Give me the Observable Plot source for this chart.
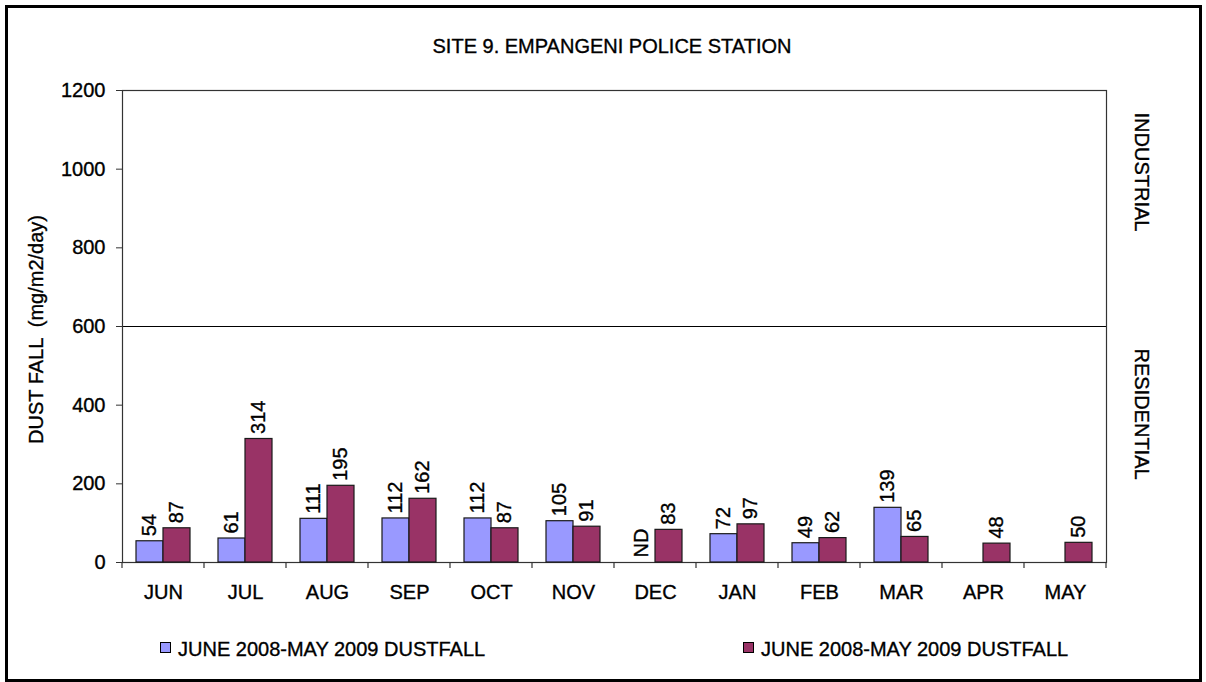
<!DOCTYPE html>
<html>
<head>
<meta charset="utf-8">
<script src="https://cdn.jsdelivr.net/npm/d3@7"></script>
<script src="https://cdn.jsdelivr.net/npm/@observablehq/plot@0.6"></script>
<style>
  body { margin: 0; background: #fff; font-family: "Liberation Sans", Arial, sans-serif; }
  #wrap { position: relative; width: 1206px; height: 682px; overflow: hidden; background: #fff; }
  #border { position: absolute; left: 5px; top: 5px; width: 1197px; height: 677px; border: 3px solid #000; box-sizing: border-box; }
  #title { position: absolute; left: 312px; width: 600px; top: 36px; text-align: center; font-size: 20px; line-height: 20px; color: #000; -webkit-text-stroke: 0.35px #000; }
  #chart { position: absolute; left: 0; top: 0; }
  #chart text { white-space: pre; stroke: #000; stroke-width: 0.35px; }
  .leg { position: absolute; top: 639px; font-size: 20px; line-height: 20px; color: #000; white-space: nowrap; -webkit-text-stroke: 0.35px #000; }
  .sw { position: absolute; width: 11px; height: 11px; border: 1px solid #000; box-sizing: border-box; top: 3px; left: 0; -webkit-text-stroke: 0; }
  .leg span.t { position: absolute; left: 18px; top: 0; }
</style>
</head>
<body>
<div id="wrap">
  <div id="border"></div>
  <div id="title"></div>
  <div id="chart"></div>
  <div id="legend"></div>
</div>
<script>
const title = "SITE 9. EMPANGENI POLICE STATION";
const yLabel = "DUST FALL  (mg/m2/day)";
const months = ["JUN","JUL","AUG","SEP","OCT","NOV","DEC","JAN","FEB","MAR","APR","MAY"];
const seriesKeys = ["first","second"];
const seriesNames = ["JUNE 2008-MAY 2009 DUSTFALL","JUNE 2008-MAY 2009 DUSTFALL"];
const seriesColors = ["#9999FF","#993366"];
const dustFirst = [54,61,111,112,112,105,null,72,49,139,null,null];
const dustSecond = [87,314,195,162,87,91,83,97,62,65,48,50];
const notDetected = ["DEC"];   // months labelled "ND" for the first series
const yTicks = [0,200,400,600,800,1000,1200];
const threshold = [600];
const zones = [{name: "INDUSTRIAL", top: 1200}, {name: "RESIDENTIAL", top: 600}];

document.getElementById("title").textContent = title;

const seriesValues = [dustFirst, dustSecond];
const data = months.flatMap((m, i) => seriesKeys.map((k, s) => {
  const v = seriesValues[s][i];
  let label = v != null ? String(v) : (s === 0 && notDetected.includes(m) ? "ND" : null);
  return {month: m, series: k, value: v, label};
}));

const font = '"Liberation Sans", Arial, sans-serif';
const plot = Plot.plot({
  width: 1206,
  height: 620,
  marginLeft: 118,
  marginRight: 96,
  marginTop: 90,
  marginBottom: 58,
  style: {fontFamily: font, fontSize: "20px", color: "#000", background: "transparent"},
  fx: {domain: months, padding: 0, label: null},
  x: {domain: seriesKeys, paddingInner: 0, paddingOuter: 0.5, axis: null},
  y: {domain: [0, 1200], label: null},
  color: {domain: seriesKeys, range: seriesColors},
  marks: [
    Plot.ruleY(threshold, {stroke: "#000", strokeWidth: 1.2}),
    Plot.frame({facet: "super", stroke: "#333", strokeWidth: 1.2}),
    Plot.barY(data.filter(d => d.value != null), {fx: "month", x: "series", y: "value", fill: "series", stroke: "#1a1a1a", strokeWidth: 1.2}),
    Plot.text(data.filter(d => d.label != null), {fx: "month", x: "series", y: d => d.value ?? 0, text: "label", rotate: -90, textAnchor: "start", dy: -5, fontSize: 20, fill: "#000"}),
    Plot.text(zones, {fx: () => months[months.length - 1], y: "top", text: "name", frameAnchor: "right", rotate: 90, textAnchor: "start", dx: 35, dy: 22, fontSize: 20, fill: "#000"}),
    Plot.text([yLabel], {facet: "super", text: d => d, frameAnchor: "left", textAnchor: "middle", rotate: -90, dx: -86, dy: 3, fontSize: 20, fill: "#000"}),
    Plot.axisY({ticks: yTicks, tickFormat: d3.format("d"), tickSize: 6, tickPadding: 11, label: null, stroke: "#333"}),
    Plot.axisFx({anchor: "bottom", tickSize: 0, tickPadding: 22, label: null})
  ]
});
document.getElementById("chart").appendChild(plot);

// category boundary tick marks below the x axis, from Plot's own fx and y scales
try {
  const fxS = plot.scale("fx"), yS = plot.scale("y");
  const y0 = yS.apply(0);
  let bounds;
  if (fxS && fxS.apply) {
    const bw = fxS.bandwidth;
    bounds = months.map(m => fxS.apply(m));
    bounds.push(fxS.apply(months[months.length - 1]) + bw);
  } else {
    const step = (fxS.range[1] - fxS.range[0]) / months.length;
    bounds = d3.range(months.length + 1).map(i => fxS.range[0] + i * step);
  }
  d3.select(plot).append("g")
    .attr("stroke", "#333").attr("stroke-width", 1.2)
    .selectAll("line").data(bounds).join("line")
    .attr("x1", d => d).attr("x2", d => d)
    .attr("y1", y0).attr("y2", y0 + 6);
} catch (e) { console.error(e); }

// legend
const legend = document.getElementById("legend");
const legLeft = [160, 743];
seriesKeys.forEach((k, i) => {
  const div = document.createElement("div");
  div.className = "leg";
  div.style.left = legLeft[i] + "px";
  div.style.width = "420px";
  div.style.height = "24px";
  const sw = document.createElement("span");
  sw.className = "sw";
  sw.style.background = seriesColors[i];
  const t = document.createElement("span");
  t.className = "t";
  t.textContent = seriesNames[i];
  div.appendChild(sw); div.appendChild(t);
  legend.appendChild(div);
});
</script>
</body>
</html>
